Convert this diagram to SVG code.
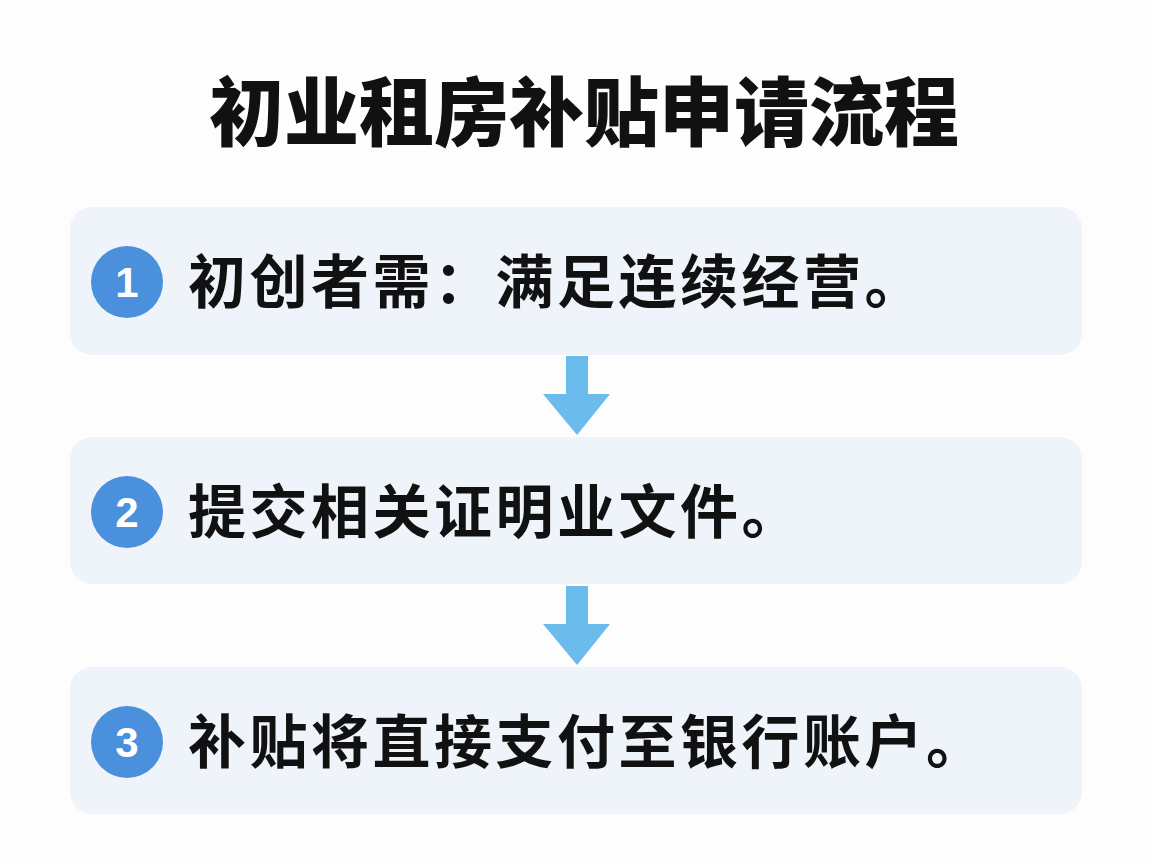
<svg xmlns="http://www.w3.org/2000/svg" width="1152" height="864" viewBox="0 0 1152 864">
<style>
.box{fill:#eff4fb;}
.num{fill:#4a90dc;}
.numt{font-family:"Liberation Sans",Arial,sans-serif;font-size:42px;font-weight:bold;fill:#ffffff;text-anchor:middle;}
.lbl{font-family:"Noto Sans CJK SC",sans-serif;font-size:58px;font-weight:bold;fill:#111111;letter-spacing:3.5px;}
.title{font-family:"Noto Sans CJK SC",sans-serif;font-size:75px;font-weight:900;fill:#111111;text-anchor:middle;}
.arr{fill:#6bbcec;}
</style>
<rect width="1152" height="864" fill="#fdfdfd"/>
<text class="title" x="584" y="140">初业租房补贴申请流程</text>
<g id="step1">
<rect class="box" x="70" y="207" width="1012" height="148" rx="22"/>
<circle class="num" cx="127" cy="282" r="36"/>
<text class="numt" x="127" y="297">1</text>
<text class="lbl" x="188" y="303">初创者需：满足连续经营。</text>
</g>
<g id="step2">
<rect class="box" x="70" y="437" width="1012" height="147" rx="22"/>
<circle class="num" cx="127" cy="512" r="36"/>
<text class="numt" x="127" y="527">2</text>
<text class="lbl" x="188" y="533">提交相关证明业文件。</text>
</g>
<g id="step3">
<rect class="box" x="70" y="667" width="1012" height="147" rx="22"/>
<circle class="num" cx="127" cy="742" r="36"/>
<text class="numt" x="127" y="757">3</text>
<text class="lbl" x="188" y="763">补贴将直接支付至银行账户。</text>
</g>
<g id="connectors">
<path class="arr" d="M566 356 H588 V394 H610 L577 435 L543 394 H566 Z"/>
<path class="arr" d="M566 586 H588 V624 H610 L577 665 L543 624 H566 Z"/>
</g>
</svg>
